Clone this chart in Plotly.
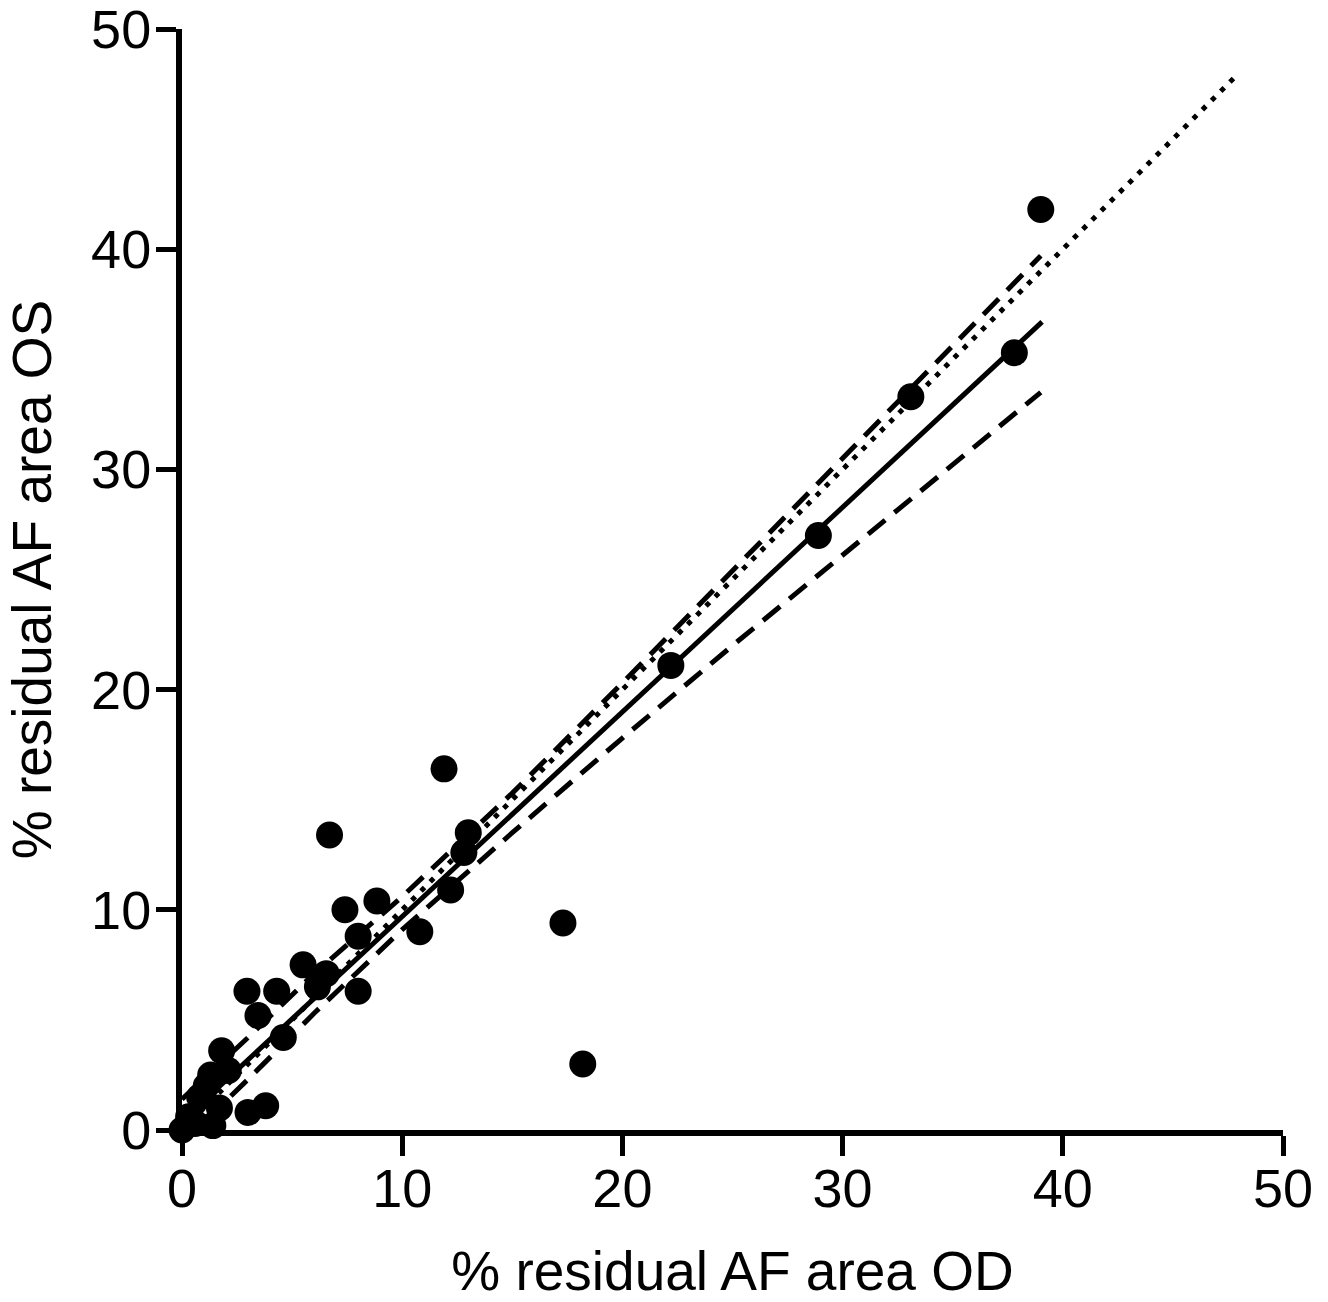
import plotly.graph_objects as go

# Scatter data: % residual AF area OD (x) vs OS (y)
x_od = [0.0, 0.3, 0.6, 0.8, 1.1, 1.3, 2.1, 1.8, 1.7, 1.4, 3.0, 3.8,
        4.6, 2.95, 4.3, 3.45, 5.5, 6.55, 6.15, 8.0, 8.0, 7.4, 8.85, 6.7,
        10.8, 12.2, 12.8, 13.0, 11.9, 17.3, 18.2, 22.2, 28.9, 33.1, 37.8, 39.0]
y_os = [0.0, 0.6, 0.3, 1.5, 2.0, 2.5, 2.7, 3.6, 1.0, 0.2, 0.8, 1.1,
        4.2, 6.3, 6.3, 5.2, 7.5, 7.1, 6.5, 6.3, 8.8, 10.0, 10.4, 13.4,
        9.0, 10.9, 12.6, 13.5, 16.4, 9.4, 3.0, 21.1, 27.0, 33.3, 35.3, 41.8]

# Line of identity (dotted)
identity_x = [0, 47.8]
identity_y = [0, 47.8]

# Regression line (solid)
reg_x = [0, 39.06]
reg_y = [0.4, 36.7]

# 95% confidence bands (dashed)
ci_x = [0, 3, 6, 10, 15, 20, 25, 30, 35, 39]
ci_upper = [1.4, 4.2, 7.1, 10.6, 15.3, 20.3, 25.4, 30.5, 35.6, 39.7]
ci_lower = [-0.6, 2.3, 5.3, 9.1, 13.5, 17.8, 22.0, 26.1, 30.2, 33.5]

tick_vals = [0, 10, 20, 30, 40, 50]
tick_text = ["0", "10", "20", "30", "40", "50"]

FONT = "Liberation Sans, Arial, Helvetica, sans-serif"

fig = go.Figure()
fig.add_trace(go.Scatter(x=identity_x, y=identity_y, mode="lines",
                         line=dict(color="black", width=5, dash="5px,8px"),
                         showlegend=False, hoverinfo="skip"))
fig.add_trace(go.Scatter(x=ci_x, y=ci_upper, mode="lines",
                         line=dict(color="black", width=5, dash="22px,12px"),
                         showlegend=False, hoverinfo="skip"))
fig.add_trace(go.Scatter(x=ci_x, y=ci_lower, mode="lines",
                         line=dict(color="black", width=5, dash="22px,12px"),
                         showlegend=False, hoverinfo="skip"))
fig.add_trace(go.Scatter(x=reg_x, y=reg_y, mode="lines",
                         line=dict(color="black", width=5),
                         showlegend=False, hoverinfo="skip"))
fig.add_trace(go.Scatter(x=x_od, y=y_os, mode="markers",
                         marker=dict(color="black", size=27, symbol="circle"),
                         cliponaxis=False, showlegend=False))

fig.update_layout(
    width=1328, height=1302,
    margin=dict(l=182, r=45, t=29, b=172),
    paper_bgcolor="white", plot_bgcolor="white",
    font=dict(family=FONT, color="black"),
)
fig.update_xaxes(
    range=[0, 50], tickvals=tick_vals, ticktext=tick_text, automargin=False,
    showgrid=False, zeroline=False, showline=True, linecolor="black", linewidth=6,
    ticks="outside", ticklen=20, tickwidth=5, tickcolor="black",
    tickfont=dict(size=54, family=FONT), ticklabeloverflow="allow",
    ticklabelstandoff=-14,
    title=dict(text="% residual AF area OD", font=dict(size=55, family=FONT), standoff=40),
)
fig.update_yaxes(
    range=[0, 50], tickvals=tick_vals, ticktext=tick_text, automargin=False,
    showgrid=False, zeroline=False, showline=True, linecolor="black", linewidth=6,
    ticks="outside", ticklen=20, tickwidth=5, tickcolor="black",
    tickfont=dict(size=54, family=FONT), ticklabeloverflow="allow",
    ticklabelstandoff=-6,
    title=dict(text="% residual AF area OS", font=dict(size=55, family=FONT), standoff=24),
)

fig.write_html("out.html")
